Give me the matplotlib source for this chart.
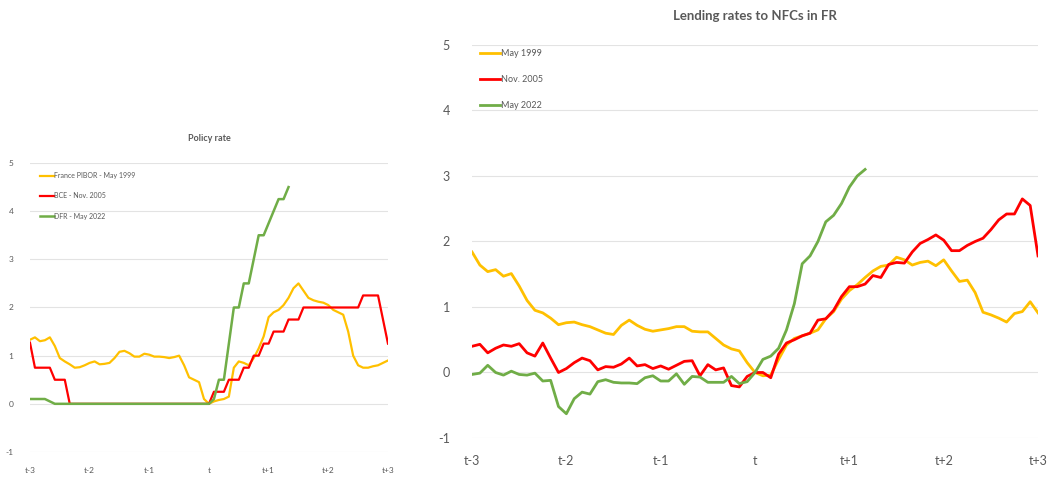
import numpy as np
import matplotlib
matplotlib.use("Agg")
import matplotlib.pyplot as plt

plt.rcParams["font.family"] = ["Lato", "DejaVu Sans"]
plt.rcParams["axes.unicode_minus"] = False

# -----------------------------------------------
# data (monthly, t-36 .. t+36)
# -----------------------------------------------
months = np.arange(-36, 37)
xticks = [-36, -24, -12, 0, 12, 24, 36]
xlabels = ["t-3", "t-2", "t-1", "t", "t+1", "t+2", "t+3"]

# policy rate
policy_1999 = [1.33, 1.38, 1.30, 1.32, 1.38, 1.20, 0.95, 0.88, 0.82, 0.75, 0.76, 0.80,
               0.85, 0.88, 0.82, 0.83, 0.85, 0.95, 1.08, 1.10, 1.05, 0.98, 0.98, 1.04,
               1.02, 0.98, 0.98, 0.97, 0.95, 0.97, 1.00, 0.80, 0.55, 0.50, 0.45, 0.10,
               0.00, 0.05, 0.08, 0.10, 0.15, 0.75, 0.88, 0.85, 0.80, 0.95, 1.15, 1.40,
               1.80, 1.90, 1.95, 2.05, 2.20, 2.40, 2.50, 2.35, 2.20, 2.15, 2.12, 2.10,
               2.05, 1.95, 1.90, 1.85, 1.50, 1.00, 0.80, 0.75, 0.75, 0.78, 0.80, 0.85,
               0.90]
policy_2005 = [1.27, 0.75, 0.75, 0.75, 0.75, 0.50, 0.50, 0.50, 0.00, 0.00, 0.00, 0.00,
               0.00, 0.00, 0.00, 0.00, 0.00, 0.00, 0.00, 0.00, 0.00, 0.00, 0.00, 0.00,
               0.00, 0.00, 0.00, 0.00, 0.00, 0.00, 0.00, 0.00, 0.00, 0.00, 0.00, 0.00,
               0.00, 0.25, 0.25, 0.25, 0.50, 0.50, 0.50, 0.75, 0.75, 1.00, 1.00, 1.25,
               1.25, 1.50, 1.50, 1.50, 1.75, 1.75, 1.75, 2.00, 2.00, 2.00, 2.00, 2.00,
               2.00, 2.00, 2.00, 2.00, 2.00, 2.00, 2.00, 2.25, 2.25, 2.25, 2.25, 1.75,
               1.25]
policy_2022 = [0.10, 0.10, 0.10, 0.10, 0.05, 0.00, 0.00, 0.00, 0.00, 0.00, 0.00, 0.00,
               0.00, 0.00, 0.00, 0.00, 0.00, 0.00, 0.00, 0.00, 0.00, 0.00, 0.00, 0.00,
               0.00, 0.00, 0.00, 0.00, 0.00, 0.00, 0.00, 0.00, 0.00, 0.00, 0.00, 0.00,
               0.00, 0.10, 0.50, 0.50, 1.25, 2.00, 2.00, 2.50, 2.50, 3.00, 3.50, 3.50,
               3.75, 4.00, 4.25, 4.25, 4.50]

# lending rates to NFCs
lend_1999 = [1.84, 1.64, 1.54, 1.57, 1.47, 1.51, 1.32, 1.10, 0.95, 0.91, 0.83, 0.73,
             0.76, 0.77, 0.73, 0.70, 0.65, 0.60, 0.58, 0.72, 0.80, 0.72, 0.66, 0.63,
             0.65, 0.67, 0.70, 0.70, 0.63, 0.62, 0.62, 0.52, 0.42, 0.36, 0.33, 0.15,
             0.00, -0.05, -0.04, 0.20, 0.42, 0.52, 0.56, 0.60, 0.65, 0.82, 0.93, 1.12,
             1.25, 1.34, 1.45, 1.55, 1.62, 1.64, 1.76, 1.72, 1.64, 1.68, 1.70, 1.63,
             1.72, 1.55, 1.39, 1.41, 1.22, 0.92, 0.88, 0.83, 0.77, 0.90, 0.93, 1.08,
             0.91]
lend_2005 = [0.40, 0.43, 0.30, 0.37, 0.42, 0.40, 0.44, 0.30, 0.25, 0.45, 0.22, 0.00,
             0.06, 0.15, 0.22, 0.18, 0.04, 0.09, 0.08, 0.13, 0.22, 0.10, 0.12, 0.06,
             0.10, 0.05, 0.11, 0.17, 0.18, -0.05, 0.12, 0.04, 0.07, -0.20, -0.22, -0.06,
             0.00, 0.00, -0.08, 0.28, 0.45, 0.50, 0.56, 0.60, 0.80, 0.82, 0.95, 1.16,
             1.31, 1.31, 1.35, 1.48, 1.45, 1.65, 1.68, 1.67, 1.84, 1.97, 2.03, 2.10,
             2.02, 1.86, 1.86, 1.94, 2.00, 2.05, 2.18, 2.33, 2.42, 2.42, 2.65, 2.55,
             1.78]
lend_2022 = [-0.03, -0.01, 0.11, 0.00, -0.04, 0.02, -0.03, -0.04, -0.01, -0.13, -0.12, -0.52,
             -0.63, -0.40, -0.30, -0.33, -0.14, -0.11, -0.15, -0.16, -0.16, -0.17, -0.08, -0.05,
             -0.13, -0.13, -0.02, -0.18, -0.06, -0.07, -0.15, -0.15, -0.15, -0.06, -0.17, -0.14,
             0.00, 0.20, 0.25, 0.37, 0.65, 1.05, 1.66, 1.78, 2.00, 2.30, 2.40, 2.58,
             2.83, 3.00, 3.10]

YELLOW = "#FFC000"
RED = "#FF0000"
GREEN = "#70AD47"
TXT = "#595959"

fig = plt.figure(figsize=(10.48, 4.79), dpi=100)

ax1 = fig.add_axes([0.0286, 0.0564, 0.3416, 0.6033])
ax2 = fig.add_axes([0.4504, 0.0856, 0.5401, 0.8205])


def style(ax, fs, pad_x, pad_y):
    ax.set_xlim(-36, 36)
    ax.set_ylim(-1, 5)
    ax.set_yticks(range(-1, 6))
    ax.set_xticks(xticks)
    ax.set_xticklabels(xlabels)
    ax.grid(axis="y", color="#E3E3E3", lw=0.8)
    ax.set_axisbelow(True)
    for s in ax.spines.values():
        s.set_visible(False)
    ax.tick_params(length=0, labelsize=fs, colors=TXT)
    ax.tick_params(axis="x", pad=pad_x)
    ax.tick_params(axis="y", pad=pad_y)


# policy rate panel
ax1.plot(months, policy_1999, color=YELLOW, lw=1.6, label="France PIBOR - May 1999")
ax1.plot(months, policy_2005, color=RED, lw=1.6, label="BCE - Nov. 2005")
ax1.plot(months[:len(policy_2022)], policy_2022, color=GREEN, lw=1.8, label="DFR - May 2022")
style(ax1, 6, 11, 12)
ax1.set_title("Policy rate", fontsize=6.5, color=TXT, fontweight="bold", pad=16)
ax1.legend(loc="upper left", frameon=False, fontsize=5, labelcolor=TXT,
           handlelength=2.0, handletextpad=0.1, labelspacing=1.9,
           bbox_to_anchor=(0.01, 0.99))

# lending rates panel
ax2.plot(months, lend_1999, color=YELLOW, lw=2.0, label="May 1999")
ax2.plot(months, lend_2005, color=RED, lw=2.0, label="Nov. 2005")
ax2.plot(months[:len(lend_2022)], lend_2022, color=GREEN, lw=2.0, label="May 2022")
style(ax2, 9, 12, 16)
ax2.set_title("Lending rates to NFCs in FR", fontsize=9.5, color=TXT,
              fontweight="bold", pad=18)
ax2.legend(loc="upper left", frameon=False, fontsize=6.5, labelcolor=TXT,
           handlelength=2.2, handletextpad=0.1, labelspacing=1.9,
           bbox_to_anchor=(0.0, 1.01))

fig.savefig("out.png", dpi=100)
